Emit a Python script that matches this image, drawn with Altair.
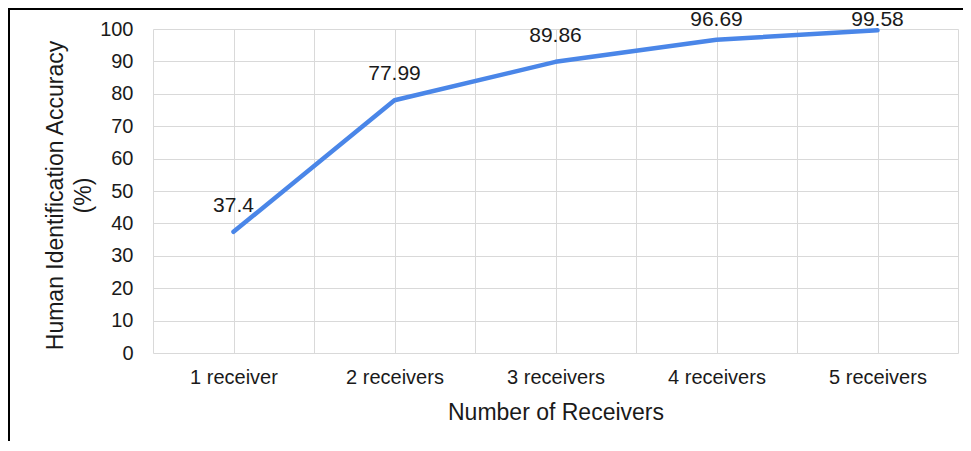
import altair as alt
import pandas as pd

categories = ["1 receiver", "2 receivers", "3 receivers", "4 receivers", "5 receivers"]
accuracy = [37.4, 77.99, 89.86, 96.69, 99.58]
label_text = ["37.4", "77.99", "89.86", "96.69", "99.58"]
y_ticks = [0, 10, 20, 30, 40, 50, 60, 70, 80, 90, 100]

df = pd.DataFrame({
    "idx": list(range(1, len(categories) + 1)),
    "category": categories,
    "accuracy": accuracy,
    "label": label_text,
})

FONT = "Liberation Sans"
W, H = 805, 324
PAD = {"left": 145, "top": 21, "right": 5, "bottom": 88}

x_vals = [i / 2 for i in range(1, 2 * len(categories) + 2)]
lab_expr = "datum.value % 1 == 0 ? " + str(categories) + "[datum.value - 1] : ''"

x_enc = alt.X(
    "idx:Q",
    scale=alt.Scale(domain=[0.5, len(categories) + 0.5], nice=False, zero=False),
    axis=alt.Axis(
        values=x_vals, labelExpr=lab_expr, labelOverlap=False, ticks=False, domain=False,
        grid=True, gridColor="#d9d9d9", gridWidth=1,
        labelFontSize=20, labelColor="#1a1a1a", labelFont=FONT, labelPadding=14,
        title="Number of Receivers", titleFontSize=23, titleFontWeight="normal",
        titleFont=FONT, titleColor="#1a1a1a", titleX=W / 2, titleY=59,
        titleBaseline="middle", titleAlign="center",
    ),
)
y_axis = alt.Axis(
    values=[float(v) for v in y_ticks], labelOverlap=False, tickCount=11,
    ticks=False, domain=False, grid=True, gridColor="#d9d9d9", gridWidth=1,
    labelFontSize=20, labelColor="#1a1a1a", labelFont=FONT, labelPadding=20,
    title=["Human Identification Accuracy", "(%)"], titleFontSize=23,
    titleFontWeight="normal", titleFont=FONT, titleColor="#1a1a1a",
    titleAngle=270, titleX=-98, titleY=166, titleAlign="center",
    titleBaseline="middle", titleLineHeight=28,
)
y_scale = alt.Scale(domain=[0, 100], nice=False)
y_enc = alt.Y("accuracy:Q", scale=y_scale, axis=y_axis)

base = alt.Chart(df)
line = base.mark_line(color="#4a86e8", strokeWidth=4.5, strokeCap="round", strokeJoin="round").encode(
    x=x_enc, y=y_enc
)
# labels sit a little above each point, kept inside the top margin
labels = base.transform_calculate(
    label_y="min(datum.accuracy + 8, 102.8)"
).mark_text(
    fontSize=21, font=FONT, color="#1a1a1a", baseline="middle"
).encode(x=x_enc, y=alt.Y("label_y:Q", scale=y_scale, axis=y_axis), text="label:N")

frame_left = alt.Chart(df).mark_rule(color="#000000", strokeWidth=2).encode(
    x=alt.value(-144), y=alt.value(-21), y2=alt.value(H + PAD["bottom"])
)
frame_top = alt.Chart(df).mark_rule(color="#000000", strokeWidth=2).encode(
    y=alt.value(-20), x=alt.value(-145), x2=alt.value(W + PAD["right"])
)

chart = alt.layer(line, labels, frame_left, frame_top).properties(
    width=W, height=H, padding=PAD, autosize=alt.AutoSizeParams(type="none"),
    background="white",
).configure_view(stroke=None)

chart.save("out.html", embed_options={"renderer": "svg", "actions": False})
